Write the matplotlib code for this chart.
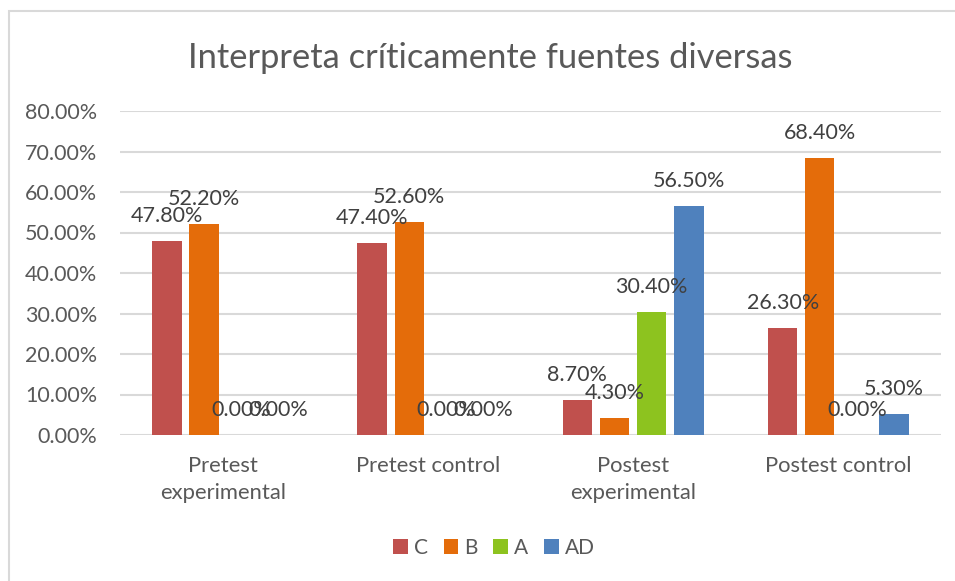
import numpy as np
import matplotlib.pyplot as plt
from matplotlib.patches import Rectangle

plt.rcParams['font.family'] = ['Lato', 'DejaVu Sans']

categories = ["Pretest\nexperimental", "Pretest control", "Postest\nexperimental", "Postest control"]
series = ["C", "B", "A", "AD"]
values_c = [47.8, 47.4, 8.7, 26.3]
values_b = [52.2, 52.6, 4.3, 68.4]
values_a = [0.0, 0.0, 30.4, 0.0]
values_ad = [0.0, 0.0, 56.5, 5.3]
colors = ["#C0504D", "#E46C0A", "#8DC31F", "#4F81BD"]
title = "Interpreta críticamente fuentes diversas"

W, H = 955, 581
fig = plt.figure(figsize=(W / 100, H / 100), dpi=100)
ax = fig.add_axes([120 / W, 1 - 435 / H, (941 - 120) / W, (435 - 111) / H])

# chart border
fig.patches.append(Rectangle((9 / W, -0.1), 1.2, 1 - 11 / H + 0.1, transform=fig.transFigure,
                             fill=False, edgecolor="#d9d9d9", linewidth=1.5))

x = np.arange(len(categories))
pitch = 0.181
width = 0.143
all_vals = [values_c, values_b, values_a, values_ad]
for i, (name, vals, col) in enumerate(zip(series, all_vals, colors)):
    pos = x + (i - 1.5) * pitch
    ax.bar(pos, vals, width, color=col, label=name, zorder=3)
    for px, v in zip(pos, vals):
        ax.annotate(f"{v:.2f}%", (px, v), xytext=(0, 18), textcoords="offset points",
                    ha="center", va="center", fontsize=15.5, color="#404040", zorder=4)

ax.set_xlim(-0.5, 3.5)
ax.set_ylim(0, 80)
ax.set_yticks(np.arange(0, 81, 10))
ax.set_yticklabels([f"{t:.2f}%" for t in np.arange(0, 81, 10)])
ax.set_xticks(x)
ax.set_xticklabels(categories, linespacing=1.45, fontsize=15.8)
ax.grid(axis="y", color="#d9d9d9", linewidth=1.5, zorder=0)
for s in ["top", "right", "left", "bottom"]:
    ax.spines[s].set_visible(False)
ax.tick_params(axis="both", length=0, colors="#595959")
ax.tick_params(axis="y", pad=16.5, labelsize=15.5)
ax.tick_params(axis="x", pad=15)

fig.text(490 / W, 1 - 58 / H, title, ha="center", va="center", fontsize=24.8, color="#595959")

leg = fig.legend(loc="center", bbox_to_anchor=(494 / W, 1 - 548 / H), ncol=4, frameon=False,
                 fontsize=15, handlelength=0.7, handleheight=0.7, handletextpad=0.3,
                 columnspacing=0.75, labelcolor="#595959")

fig.savefig("out.png", dpi=100)
